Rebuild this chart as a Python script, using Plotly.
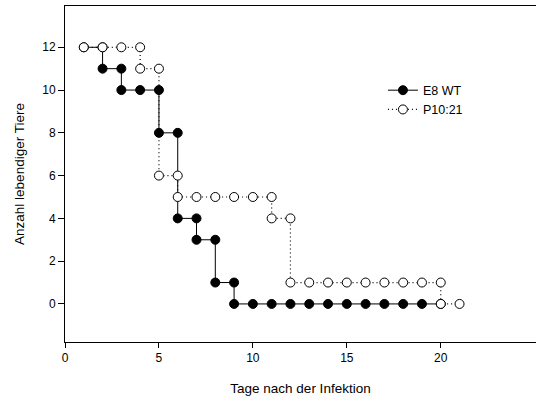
import plotly.graph_objects as go

# Surviving animals per day after infection
days_wt = [1, 2, 3, 4, 5, 6, 7, 8, 9, 10, 11, 12, 13, 14, 15, 16, 17, 18, 19, 20]
alive_wt = [12, 11, 10, 10, 8, 4, 3, 1, 0, 0, 0, 0, 0, 0, 0, 0, 0, 0, 0, 0]

days_p10 = [1, 2, 3, 4, 5, 6, 7, 8, 9, 10, 11, 12, 13, 14, 15, 16, 17, 18, 19, 20, 21]
alive_p10 = [12, 12, 12, 11, 6, 5, 5, 5, 5, 5, 4, 1, 1, 1, 1, 1, 1, 1, 1, 0, 0]

x_ticks = [0, 5, 10, 15, 20]
y_ticks = [0, 2, 4, 6, 8, 10, 12]


def step_vertices(days, alive):
    """Staircase vertices: a marker at the old and new count on each day of change."""
    xs, ys = [days[0]], [alive[0]]
    for i in range(1, len(days)):
        if alive[i] != alive[i - 1]:
            xs.append(days[i])
            ys.append(alive[i - 1])
        xs.append(days[i])
        ys.append(alive[i])
    return xs, ys


wx, wy = step_vertices(days_wt, alive_wt)
px, py = step_vertices(days_p10, alive_p10)

fig = go.Figure()
fig.add_trace(go.Scatter(
    x=wx, y=wy, name="E8 WT", mode="lines+markers",
    line=dict(color="black", width=1),
    marker=dict(symbol="circle", size=9, color="black",
                line=dict(color="black", width=1)),
))
fig.add_trace(go.Scatter(
    x=px, y=py, name="P10:21", mode="lines+markers",
    line=dict(color="black", width=1.2, dash="1px,3px"),
    marker=dict(symbol="circle", size=9, color="white",
                line=dict(color="black", width=1)),
))

font_family = "Liberation Sans, Arial, sans-serif"

fig.update_layout(
    width=536, height=400,
    margin=dict(l=65, r=0, t=6, b=58),
    plot_bgcolor="white", paper_bgcolor="white",
    font=dict(family=font_family, color="black", size=12),
    showlegend=True,
    legend=dict(
        x=0.675, y=0.793, xanchor="left", yanchor="top",
        font=dict(family=font_family, size=12.5, color="black"),
        bgcolor="rgba(0,0,0,0)", borderwidth=0,
        tracegroupgap=0,
    ),
    xaxis=dict(
        range=[0, 25.07], tickvals=x_ticks,
        ticks="outside", ticklen=5, tickwidth=1, tickcolor="black",
        showline=True, linecolor="black", linewidth=1, mirror=True,
        showgrid=False, zeroline=False,
        tickfont=dict(size=12),
        title=dict(text="Tage nach der Infektion", font=dict(size=13.5), standoff=19),
    ),
    yaxis=dict(
        range=[-1.78, 13.93], tickvals=y_ticks,
        ticks="outside", ticklen=6, tickwidth=1, tickcolor="black",
        showline=True, linecolor="black", linewidth=1, mirror=False,
        showgrid=False, zeroline=False,
        tickfont=dict(size=12),
        title=dict(text="Anzahl lebendiger Tiere", font=dict(size=13.5), standoff=14),
    ),
)

fig.write_html("out.html")
